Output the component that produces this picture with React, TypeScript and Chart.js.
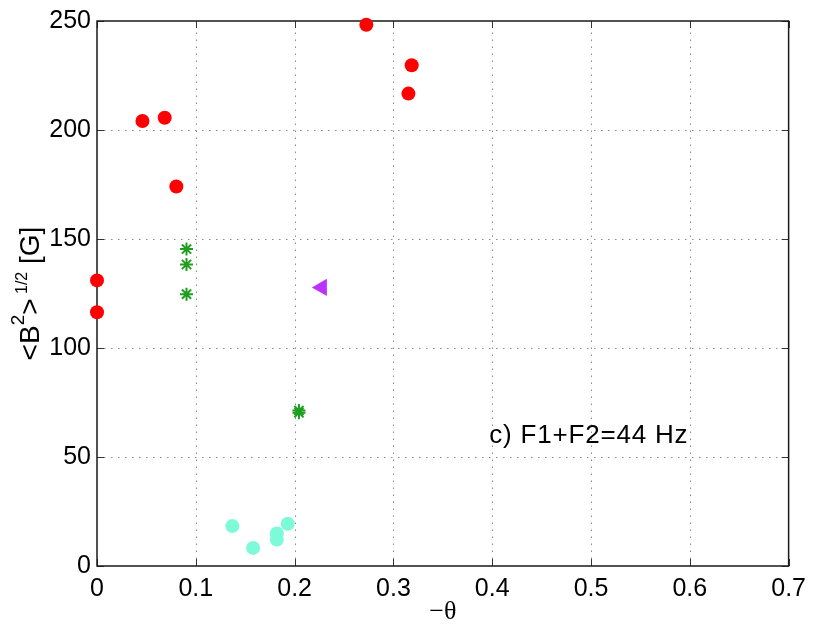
import React, { useEffect, useRef } from "react";
import { Chart, registerables } from "chart.js";

Chart.register(...registerables);

// ---- data ----
const redX = [0, 0, 0.046, 0.0685, 0.0803, 0.2726, 0.3185, 0.3152];
const redY = [131, 116.4, 204.1, 205.6, 174.1, 248.3, 229.7, 216.7];

const greenX = [0.0906, 0.0906, 0.0906, 0.2044, 0.2044];
const greenY = [145.4, 138.3, 124.7, 70.3, 71.3];

const purpleX = [0.2276];
const purpleY = [127.8];

const cyanX = [0.137, 0.158, 0.182, 0.182, 0.193];
const cyanY = [18.3, 8.3, 14.9, 12.1, 19.4];

const xTicks = [0, 0.1, 0.2, 0.3, 0.4, 0.5, 0.6, 0.7];
const yTicks = [0, 50, 100, 150, 200, 250];

const annotation = "c) F1+F2=44 Hz";
const xTitle = "\u2212\u03b8";

const pts = (xs: number[], ys: number[]) => xs.map((x, i) => ({ x, y: ys[i] }));

const SANS = "'Liberation Sans', Arial, Helvetica, sans-serif";

const framePlugin = {
  id: "frame",
  beforeDatasetsDraw(chart: any) {
    const { ctx, chartArea: a, scales } = chart;
    ctx.save();
    // grid (dotted)
    ctx.strokeStyle = "#8a8a8a";
    ctx.lineWidth = 1;
    ctx.setLineDash([1.5, 5.5]);
    xTicks.forEach((t) => {
      const px = Math.round(scales.x.getPixelForValue(t)) + 0.5;
      if (px <= a.left + 1 || px >= a.right - 1) return;
      ctx.beginPath();
      ctx.moveTo(px, a.bottom);
      ctx.lineTo(px, a.top);
      ctx.stroke();
    });
    yTicks.forEach((t) => {
      const py = Math.round(scales.y.getPixelForValue(t)) + 0.5;
      if (py <= a.top + 1 || py >= a.bottom - 1) return;
      ctx.beginPath();
      ctx.moveTo(a.left, py);
      ctx.lineTo(a.right, py);
      ctx.stroke();
    });
    ctx.setLineDash([]);
    // inner ticks
    ctx.strokeStyle = "#333";
    ctx.lineWidth = 1;
    const tl = 7;
    xTicks.forEach((t) => {
      const px = Math.round(scales.x.getPixelForValue(t)) + 0.5;
      ctx.beginPath();
      ctx.moveTo(px, a.bottom);
      ctx.lineTo(px, a.bottom - tl);
      ctx.moveTo(px, a.top);
      ctx.lineTo(px, a.top + tl);
      ctx.stroke();
    });
    yTicks.forEach((t) => {
      const py = Math.round(scales.y.getPixelForValue(t)) + 0.5;
      ctx.beginPath();
      ctx.moveTo(a.left, py);
      ctx.lineTo(a.left + tl, py);
      ctx.moveTo(a.right, py);
      ctx.lineTo(a.right - tl, py);
      ctx.stroke();
    });
    // box
    ctx.strokeStyle = "#1a1a1a";
    ctx.lineWidth = 1.5;
    ctx.strokeRect(a.left, a.top, a.right - a.left, a.bottom - a.top);
    ctx.restore();
  },
  afterDraw(chart: any) {
    const { ctx, chartArea: a, scales } = chart;
    ctx.save();
    ctx.fillStyle = "#000";
    // annotation
    ctx.font = `26px ${SANS}`;
    try {
      (ctx as any).letterSpacing = "0.8px";
    } catch (e) {}
    ctx.textAlign = "left";
    ctx.textBaseline = "alphabetic";
    ctx.fillText(annotation, scales.x.getPixelForValue(0.397), scales.y.getPixelForValue(56.5));
    try {
      (ctx as any).letterSpacing = "0px";
    } catch (e) {}
    // x title
    ctx.font = `26px 'Liberation Serif', 'Times New Roman', serif`;
    ctx.textAlign = "center";
    ctx.textBaseline = "middle";
    ctx.fillText(xTitle, (a.left + a.right) / 2, 612);
    // y title with superscripts
    const big = `28px ${SANS}`;
    const sup = `19px ${SANS}`;
    const small = `16px ${SANS}`;
    const parts: [string, string, number][] = [
      ["<B", big, 0],
      ["2", sup, -15],
      [">", big, 0],
      [" 1/2", small, -12],
      [" [G]", big, 0],
    ];
    let total = 0;
    parts.forEach(([t, f]) => {
      ctx.font = f;
      total += ctx.measureText(t).width;
    });
    ctx.translate(39, (a.top + a.bottom) / 2);
    ctx.rotate(-Math.PI / 2);
    ctx.textAlign = "left";
    ctx.textBaseline = "alphabetic";
    let x = -total / 2;
    parts.forEach(([t, f, dy]) => {
      ctx.font = f;
      ctx.fillText(t, x, dy);
      x += ctx.measureText(t).width;
    });
    ctx.restore();
  },
};

export default function App() {
  const ref = useRef<HTMLCanvasElement | null>(null);
  useEffect(() => {
    if (!ref.current) return;
    const chart = new Chart(ref.current, {
      type: "scatter",
      data: {
        datasets: [
          {
            data: pts(redX, redY),
            pointStyle: "circle",
            pointRadius: 7,
            pointBorderWidth: 0,
            backgroundColor: "#ff0000",
            borderColor: "#ff0000",
            clip: false,
          },
          {
            data: pts(greenX, greenY),
            pointStyle: "star",
            pointRadius: 6.5,
            pointBorderWidth: 2,
            backgroundColor: "#1f9f1f",
            borderColor: "#1f9f1f",
            clip: false,
          },
          {
            data: pts(purpleX, purpleY),
            pointStyle: "triangle",
            pointRotation: -90,
            pointRadius: 10,
            pointBorderWidth: 0,
            backgroundColor: "#bb33ff",
            borderColor: "#bb33ff",
            clip: false,
          },
          {
            data: pts(cyanX, cyanY),
            pointStyle: "circle",
            pointRadius: 7,
            pointBorderWidth: 0,
            backgroundColor: "#7dfbd9",
            borderColor: "#7dfbd9",
            clip: false,
          },
        ] as any,
      },
      options: {
        responsive: false,
        animation: false,
        devicePixelRatio: 1,
        layout: { padding: { top: 20, right: 23, left: 0, bottom: 0 } },
        plugins: { legend: { display: false }, tooltip: { enabled: false } },
        scales: {
          x: {
            type: "linear",
            min: 0,
            max: 0.7,
            afterFit: (s: any) => {
              s.height = 68;
            },
            afterBuildTicks: (s: any) => {
              s.ticks = xTicks.map((v) => ({ value: v }));
            },
            grid: { display: false, drawTicks: false },
            border: { display: false },
            ticks: {
              padding: 8,
              color: "#000",
              font: { family: SANS, size: 25 },
              callback: (v: any) => (Number(v) === 0 ? "0" : Number(v).toFixed(1)),
              maxRotation: 0,
              autoSkip: false,
            },
          },
          y: {
            type: "linear",
            min: 0,
            max: 250,
            afterFit: (s: any) => {
              s.width = 97;
            },
            afterBuildTicks: (s: any) => {
              s.ticks = yTicks.map((v) => ({ value: v }));
            },
            grid: { display: false, drawTicks: false },
            border: { display: false },
            ticks: {
              padding: 6,
              color: "#000",
              font: { family: SANS, size: 25 },
              callback: (v: any) => String(v),
              autoSkip: false,
            },
          },
        },
      },
      plugins: [framePlugin],
    });
    return () => chart.destroy();
  }, []);
  return (
    <div style={{ position: "absolute", left: 0, top: 0, width: 814, height: 634, background: "#fff" }}>
      <canvas ref={ref} width={814} height={634} style={{ width: 814, height: 634, display: "block" }} />
    </div>
  );
}
